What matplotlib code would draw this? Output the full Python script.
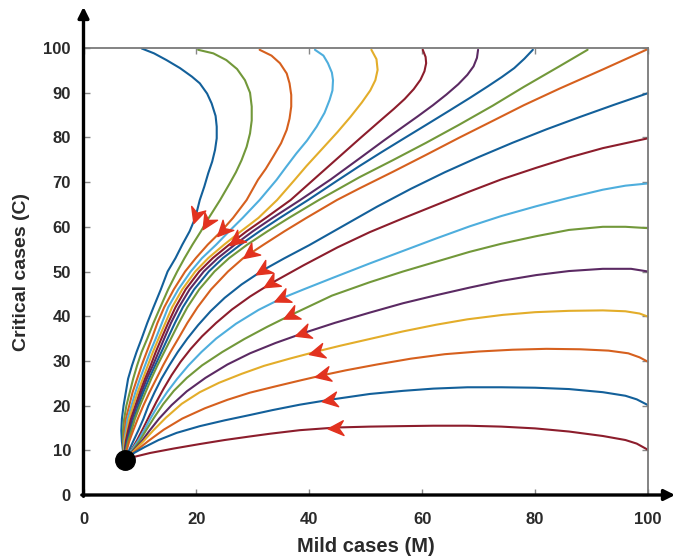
import numpy as np
import matplotlib
matplotlib.use("Agg")
import matplotlib.pyplot as plt
from matplotlib.markers import MarkerStyle
from matplotlib.path import Path
from matplotlib.transforms import Affine2D

# equilibrium point (M, C)
eq_m, eq_c = 7.3, 7.8

# C levels shared by the lower (converging) part of the upper trajectories
levels = [66, 62, 59, 56, 53, 50, 46, 42, 38.5, 35, 32, 29, 26, 23, 20, 17, 14.4, 12, 9.8, 7.8]

# upper trajectories: start on C=100, read (M, C) points down to C~66
top_upper = {
    "M10": [(10.3, 99.9), (12.5, 98.8), (14.7, 97.3), (17.1, 95.5), (19.2, 93.6), (20.6, 92.1),
            (21.9, 89.8), (22.7, 87.6), (23.4, 84.8), (23.6, 82.4), (23.6, 79.8), (23.3, 77.2),
            (22.8, 74.6), (22.1, 72), (21.4, 69)],
    "M20": [(20.3, 99.6), (23, 98.8), (25.3, 97.3), (27.2, 95.3), (28.6, 92.8), (29.5, 90),
            (29.8, 86.9), (29.8, 83.8), (29.5, 80.9), (28.9, 77.9), (28, 74.9), (27, 72.2), (25.9, 69.7)],
    "M30": [(31.2, 99.6), (33.3, 98.3), (34.8, 96.6), (36, 94.3), (36.5, 92.1), (36.8, 89.5),
            (36.8, 86.9), (36.5, 84.2), (36, 81.7), (35, 78.7), (33.6, 75.7), (32.3, 73), (30.9, 70.5)],
    "M40": [(41, 99.6), (42.5, 98.3), (43.3, 96.6), (44, 94.5), (44.2, 92.8), (44.1, 90.5),
            (43.6, 88.4), (42.7, 85.5), (41.3, 82.4), (39.6, 79.3), (37.7, 76.4), (35.9, 73.4), (34.2, 70.5)],
    "M50": [(51, 99.6), (51.9, 97.5), (52.1, 95.1), (51.7, 92.8), (50.8, 90.5), (49.3, 87.8),
            (47.3, 84.6), (45, 81.2), (42.4, 77.6), (39.5, 73.6), (37.2, 70.2)],
    "M60": [(60.1, 99.6), (60.6, 98), (60.7, 96.6), (60.4, 94.8), (59.7, 92.9), (58.5, 90.8),
            (56.9, 88.6), (55, 86.4), (52.8, 84), (48.9, 79.7), (44.8, 75.1), (40.7, 70.5)],
    "M70": [(69.9, 99.6), (69.7, 97.8), (69.1, 95.9), (68, 94), (66.4, 91.9), (64.3, 89.6),
            (61.9, 87.2), (59.2, 84.7), (56.3, 82.1), (53.2, 79.3), (48.9, 75.3), (43.8, 70.6)],
    "M80": [(79.6, 99.6), (78.1, 97.6), (76.3, 95.5), (74.1, 93.5), (71.6, 91.4), (68.4, 88.8),
            (64.7, 85.9), (60.7, 82.8), (56.8, 79.8), (52.8, 76.7), (48.9, 73.6), (44.8, 70.2)],
    "M90": [(89.3, 99.6), (84.3, 95.9), (78, 91.3), (72.5, 87.1), (66.5, 82.8), (60.7, 78.8),
            (54.8, 74.9), (48.9, 71.1), (45.8, 68.9)],
    "C100": [(99.7, 99.6), (92, 95.2), (84.3, 90.9), (78, 87.2), (72.5, 83.7), (66.5, 79.9),
             (60.7, 76.1), (54.8, 72.3), (48.9, 68.6)],
}

# M of each upper trajectory at the shared C levels
top_lower = {
    "M10": [20.6, 19.8, 18.8, 17.5, 16.3, 14.9, 13.7, 12.4, 11.3, 10.3, 9.4, 8.6, 7.9, 7.5, 7.1, 6.8, 6.7, 6.8, 7.0, 7.3],
    "M20": [24.2, 22.2, 20.8, 19.3, 17.9, 16.6, 15.0, 13.6, 12.4, 11.3, 10.3, 9.5, 8.8, 8.2, 7.6, 7.2, 7.0, 7.0, 7.1, 7.3],
    "M30": [28.9, 26.5, 24.4, 22.0, 19.9, 18.0, 16.0, 14.3, 13.1, 12.1, 11.2, 10.3, 9.5, 8.7, 8.1, 7.5, 7.3, 7.1, 7.15, 7.3],
    "M40": [31.2, 28.2, 25.8, 23.5, 21.0, 19.0, 16.8, 15.0, 13.9, 12.8, 11.8, 10.9, 10.0, 9.2, 8.5, 7.8, 7.5, 7.2, 7.2, 7.3],
    "M50": [34.3, 31.0, 27.9, 24.9, 22.1, 19.8, 17.5, 15.7, 14.5, 13.3, 12.3, 11.4, 10.5, 9.6, 8.8, 8.1, 7.7, 7.3, 7.25, 7.3],
    "M60": [36.7, 32.3, 28.9, 25.8, 22.9, 20.5, 18.1, 16.3, 15.0, 13.8, 12.8, 11.9, 10.9, 10.0, 9.2, 8.4, 7.9, 7.5, 7.3, 7.3],
    "M70": [38.4, 33.5, 30.0, 26.8, 23.8, 21.3, 18.8, 16.9, 15.5, 14.3, 13.3, 12.3, 11.2, 10.3, 9.4, 8.6, 8.1, 7.6, 7.35, 7.3],
    "M80": [39.8, 34.8, 31.2, 27.8, 24.7, 22.2, 19.6, 17.6, 16.2, 14.9, 13.8, 12.7, 11.6, 10.6, 9.7, 8.9, 8.3, 7.8, 7.4, 7.3],
    "M90": [41.7, 36.4, 32.6, 29.0, 25.8, 23.2, 20.5, 18.4, 16.9, 15.5, 14.3, 13.1, 12.0, 11.0, 10.0, 9.1, 8.5, 7.9, 7.5, 7.3],
    "C100": [44.9, 39.5, 35.6, 31.9, 28.3, 25.6, 22.6, 20.2, 18.4, 16.8, 15.4, 14.1, 12.9, 11.7, 10.6, 9.6, 8.8, 8.1, 7.6, 7.3],
}

# trajectories starting on the right edge M=100
side = {
    "C90": [(100, 89.9), (94, 87.3), (88, 84.6), (82, 81.8), (76, 78.8), (70, 75.6), (64, 72.2),
            (58, 68.5), (52, 64.5), (46, 60.2), (40, 55.9), (35.5, 52.9), (31.8, 50.3), (28, 47.1),
            (25, 44.1), (22.5, 41.1), (20.3, 38), (18.4, 35), (16.7, 32), (15.2, 29), (13.8, 26),
            (12.6, 23), (11.5, 20), (10.6, 17), (9.7, 14.4), (8.8, 12), (8, 9.8), (7.3, 7.8)],
    "C80": [(100, 79.8), (96, 78.7), (92, 77.6), (86, 75.5), (80.2, 73.2), (74, 70.6), (68.4, 67.9),
            (62.5, 64.9), (56.6, 61.9), (50.7, 58.8), (45, 55.4), (39, 51.4), (33.3, 47.4), (29.5, 44.4),
            (26.3, 41.5), (23.5, 38.5), (21, 35.5), (19, 32.7), (17.2, 29.8), (15.6, 26.8), (14.2, 23.8),
            (12.9, 20.8), (11.7, 17.8), (10.6, 15), (9.5, 12.3), (8.4, 9.9), (7.3, 7.8)],
    "C70": [(100, 69.7), (96, 69.2), (92, 68.3), (86, 66.5), (80.2, 64.6), (74, 62.4), (68.4, 60.1),
            (62.5, 57.4), (56.6, 54.6), (50.7, 51.8), (44, 48.5), (39, 46), (35.1, 44), (31, 41.4),
            (27, 38.3), (23.5, 35), (20.9, 32), (18.6, 29), (16.6, 26), (14.8, 23), (13.2, 20),
            (11.8, 17), (10.7, 14.4), (9.6, 12), (8.4, 9.8), (7.3, 7.8)],
    "C60": [(100, 59.7), (96, 60), (92, 60), (86, 59.3), (80.2, 57.9), (74, 56.2), (68.4, 54.4),
            (62.5, 52.2), (56.6, 50), (50.7, 47.6), (44, 44.6), (36.8, 40.3), (32.5, 37.6), (28.5, 34.9),
            (24.6, 32), (21, 29), (18.3, 26.2), (16, 23.3), (14.1, 20.3), (12.5, 17.3), (11.1, 14.5),
            (9.9, 12), (8.6, 9.8), (7.3, 7.8)],
    "C50": [(100, 50), (97, 50.6), (92, 50.6), (86, 50.1), (80.2, 49.2), (74, 47.9), (68.4, 46.4),
            (62.5, 44.7), (56.6, 42.9), (50.7, 40.8), (44.5, 38.5), (38.9, 36.2), (34, 34), (29.5, 31.7),
            (25.5, 29.2), (21.6, 26.2), (18.3, 23.2), (15.6, 20.1), (13.4, 17.1), (11.7, 14.4), (10.3, 12),
            (8.7, 9.8), (7.3, 7.8)],
    "C40": [(100, 39.9), (98.5, 40.6), (96, 41.1), (92, 41.3), (86, 41.2), (80, 40.9), (74.3, 40.3),
            (68, 39.3), (62.5, 38.1), (56.6, 36.6), (50.7, 34.9), (45.5, 33.4), (41.3, 32.1), (36.5, 30.5),
            (32, 28.9), (28, 27.1), (24, 25.1), (20.6, 23), (17.4, 20.4), (14.6, 17.3), (12.4, 14.5),
            (10.6, 12), (8.9, 9.8), (7.3, 7.8)],
    "C30": [(100, 29.8), (98.5, 30.8), (96.5, 31.7), (93, 32.3), (88, 32.6), (82, 32.7), (76, 32.5),
            (70, 32.1), (64, 31.5), (58, 30.5), (52, 29.2), (46.5, 27.9), (42.4, 26.8), (38.3, 25.6),
            (34, 24.3), (29.5, 22.9), (25.5, 21.3), (21.5, 19.4), (17.5, 17.1), (14.2, 14.6), (11.5, 12.1),
            (9.2, 9.8), (7.3, 7.8)],
    "C20": [(100, 20.1), (98, 21.4), (96, 22.2), (92, 23.0), (86, 23.7), (80, 24.0), (74, 24.1),
            (68, 24.1), (62, 23.8), (56.6, 23.3), (50.7, 22.6), (43.6, 21.3), (38.3, 20.2), (33.5, 19.0),
            (29.5, 17.9), (25, 16.7), (20.6, 15.4), (16.5, 13.9), (13.3, 12.3), (10.8, 10.7),
            (8.8, 9.3), (7.3, 7.8)],
    "C10": [(100, 10.1), (98, 11.5), (96, 12.3), (92, 13.2), (86, 14.2), (80, 14.9), (74, 15.3),
            (68, 15.5), (62, 15.5), (56, 15.4), (50.7, 15.3), (44.8, 15.1), (38.3, 14.5), (33, 13.7),
            (29.5, 13.1), (25, 12.3), (20.6, 11.4), (16, 10.4), (11.8, 9.4), (9.2, 8.6), (7.3, 7.8)],
}

# red direction arrows (M, C)
arrow_m = [20.0, 21.8, 24.7, 27.1, 29.5, 31.8, 33.3, 35.1, 36.8, 38.9, 41.3, 42.4, 43.6, 44.8]
arrow_c = [62.6, 61.1, 59.3, 57.0, 54.1, 50.3, 47.4, 44.0, 40.3, 36.2, 32.1, 26.8, 21.3, 15.1]

blue = "#13609a"
orange = "#d6601e"
yellow = "#e3ad2a"
purple = "#5b2a63"
green = "#72983a"
lblue = "#4eaedd"
dred = "#8c1d2c"

colors = {
    "M10": blue, "M20": green, "M30": orange, "M40": lblue, "M50": yellow,
    "M60": dred, "M70": purple, "M80": blue, "M90": green, "C100": orange,
    "C90": blue, "C80": dred, "C70": lblue, "C60": green, "C50": purple,
    "C40": yellow, "C30": orange, "C20": blue, "C10": dred,
}

curves = {}
for name, pts in top_upper.items():
    curves[name] = np.array(pts + list(zip(top_lower[name], levels)))
for name, pts in side.items():
    curves[name] = np.array(pts)

plt.rcParams["font.family"] = ["Liberation Sans", "DejaVu Sans"]

fig = plt.figure(figsize=(6.78, 5.59), dpi=100)
ax = fig.add_axes([83.5 / 678, 64 / 559, 564.5 / 678, 447 / 559])
ax.set_xlim(0, 100)
ax.set_ylim(0, 100)

for name, xy in curves.items():
    ax.plot(xy[:, 0], xy[:, 1], color=colors[name], lw=1.5,
            solid_capstyle="round", solid_joinstyle="round", zorder=2)

# arrow heads, oriented along the nearest trajectory
head = Path([(0.7, 0), (-0.6, 0.62), (-0.2, 0), (-0.6, -0.62), (0.7, 0)],
            [Path.MOVETO, Path.LINETO, Path.LINETO, Path.LINETO, Path.CLOSEPOLY])
all_xy = [ax.transData.transform(xy) for xy in curves.values()]
for m, c in zip(arrow_m, arrow_c):
    p = ax.transData.transform((m, c))
    best = None
    for xy in all_xy:
        d = np.hypot(xy[:, 0] - p[0], xy[:, 1] - p[1])
        i = int(np.argmin(d))
        if best is None or d[i] < best[0]:
            j0, j1 = max(i - 1, 0), min(i + 1, len(xy) - 1)
            best = (d[i], xy[j1] - xy[j0])
    ang = np.arctan2(best[1][1], best[1][0])
    mk = MarkerStyle(head, transform=Affine2D().rotate(ang))
    ax.plot(m, c, marker=mk, ms=12, color="#e2321f", mec="#e2321f", ls="none", zorder=4)

ax.plot(eq_m, eq_c, "o", color="black", ms=14, zorder=5, clip_on=False)

# axes frame: thick arrows on left/bottom, thin grey box on top/right
for s in ["left", "bottom"]:
    ax.spines[s].set_visible(False)
for s in ["top", "right"]:
    ax.spines[s].set_color("#7a7a7a")
    ax.spines[s].set_linewidth(1.3)
ax.annotate("", xy=(0, 1.092), xytext=(0, -0.003), xycoords="axes fraction",
            arrowprops=dict(arrowstyle="-|>", color="black", lw=2.4, shrinkA=0, shrinkB=0,
                            mutation_scale=16))
ax.annotate("", xy=(1.048, 0), xytext=(-0.003, 0), xycoords="axes fraction",
            arrowprops=dict(arrowstyle="-|>", color="black", lw=2.4, shrinkA=0, shrinkB=0,
                            mutation_scale=16))

ax.set_xticks(np.arange(0, 101, 20))
ax.set_yticks(np.arange(0, 101, 10))
ax.tick_params(direction="in", length=4, width=1, color="#888888", top=True, right=True,
               labelsize=12, labelcolor="#2a2a2a")
ax.tick_params(axis="x", pad=12)
ax.tick_params(axis="y", pad=9)
for lab in ax.get_xticklabels() + ax.get_yticklabels():
    lab.set_fontweight("bold")

fig.text(366 / 678, 1 - 546 / 559, "Mild cases (M)", ha="center", va="center",
         fontsize=14.5, fontweight="bold", color="#2a2a2a")
fig.text(22 / 678, 1 - 272 / 559, "Critical cases (C)", ha="center", va="center",
         rotation=90, fontsize=14, fontweight="bold", color="#2a2a2a")

fig.savefig("out.png", dpi=100)
